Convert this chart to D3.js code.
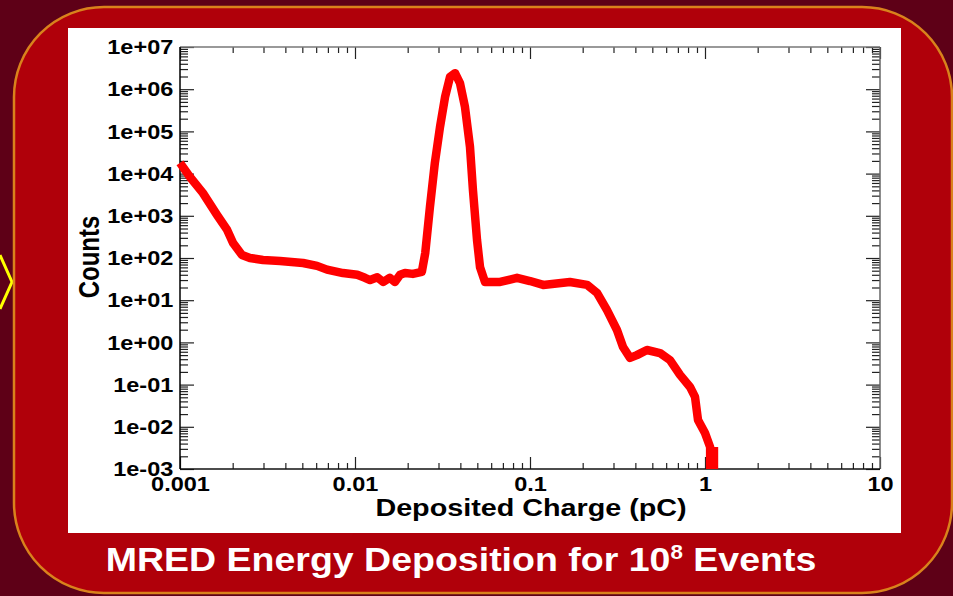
<!DOCTYPE html>
<html>
<head>
<meta charset="utf-8">
<script src="https://cdn.jsdelivr.net/npm/d3@7"></script>
<style>
  html, body { margin: 0; padding: 0; background: #5e0017; }
  svg { display: block; }
  text { font-family: "Liberation Sans", Arial, Helvetica, sans-serif; font-weight: bold; }
</style>
</head>
<body>
<svg id="chart" width="953" height="596"></svg>
<script>
// ---------------- data ----------------
const chargePC = [
  0.00100, 0.00114, 0.00135, 0.00163, 0.00186, 0.00201, 0.00226, 0.00251, 0.00298, 0.00373,
  0.00505, 0.00607, 0.00692, 0.00854, 0.0103, 0.0114, 0.0122, 0.0134, 0.0145, 0.0158,
  0.0169, 0.0181, 0.0193, 0.0214, 0.0241, 0.0252, 0.0268, 0.0286, 0.0306, 0.0327,
  0.0349, 0.0373, 0.0398, 0.0425, 0.0454, 0.0472, 0.0498, 0.0518, 0.0553, 0.0675,
  0.0843, 0.100, 0.119, 0.169, 0.212, 0.242, 0.275, 0.314, 0.340, 0.373,
  0.408, 0.466, 0.553, 0.631, 0.720, 0.821, 0.877, 0.912, 1.00, 1.07,
  1.07, 1.125, 1.125
];
const counts = [
  1.8e4, 8.3e3, 3.5e3, 1.04e3, 461, 227, 118, 100, 90, 85,
  76, 65, 53, 44, 40, 34, 30, 35, 27, 34,
  27, 40, 44, 42, 47, 131, 1.6e3, 1.8e4, 1.27e5, 6.5e5,
  1.95e6, 2.4e6, 1.4e6, 3.8e5, 4.3e4, 4.1e3, 267, 61, 27, 27,
  34, 28.5, 23, 27, 23, 14.8, 5.9, 1.97, 0.78, 0.43,
  0.50, 0.66, 0.56, 0.38, 0.17, 0.088, 0.051, 0.0145, 0.0071, 0.0033,
  0.001, 0.001, 0.0033
];
const xTickValues = [0.001, 0.01, 0.1, 1, 10];
const xTickLabels = ["0.001", "0.01", "0.1", "1", "10"];
const yTickValues = [1e-3, 1e-2, 1e-1, 1e0, 1e1, 1e2, 1e3, 1e4, 1e5, 1e6, 1e7];
const yTickLabels = ["1e-03", "1e-02", "1e-01", "1e+00", "1e+01", "1e+02", "1e+03", "1e+04", "1e+05", "1e+06", "1e+07"];
const xAxisTitle = "Deposited Charge (pC)";
const yAxisTitle = "Counts";
const slideTitleMain = "MRED Energy Deposition for 10";
const slideTitleSup = "8";
const slideTitleEnd = " Events";

// ---------------- layout ----------------
const svg = d3.select("#chart");
const plot = { left: 180, right: 880, top: 47, bottom: 469 };

// background frame
svg.append("rect").attr("x", 0).attr("y", 0).attr("width", 953).attr("height", 596).attr("fill", "#5e0017");
svg.append("polyline")
  .attr("points", "0,255 12,282 0,309")
  .attr("fill", "none").attr("stroke", "#ffff00").attr("stroke-width", 3);
svg.append("rect")
  .attr("x", 14).attr("y", 7).attr("width", 938).attr("height", 586)
  .attr("rx", 90).attr("ry", 90)
  .attr("fill", "#b0000a").attr("stroke", "#d9821c").attr("stroke-width", 2.5);
svg.append("rect")
  .attr("x", 68).attr("y", 28).attr("width", 833).attr("height", 505)
  .attr("fill", "#ffffff");

// scales
const x = d3.scaleLog().domain([0.001, 10]).range([plot.left, plot.right]);
const y = d3.scaleLog().domain([1e-3, 1e7]).range([plot.bottom, plot.top]);

function minorTicks(scale) {
  const [a, b] = scale.domain();
  const out = [];
  for (let e = Math.round(Math.log10(a)); e < Math.round(Math.log10(b)); e++) {
    for (let m = 2; m <= 9; m++) out.push(m * Math.pow(10, e));
  }
  return out;
}
const xMinor = minorTicks(x);
const yMinor = minorTicks(y);

const tickColor = "#222";
function styleAxis(g) {
  g.select(".domain").remove();
  g.selectAll(".tick line").attr("stroke", tickColor).attr("stroke-width", 1.2);
}

// minor ticks
svg.append("g").attr("transform", `translate(0,${plot.bottom})`)
  .call(d3.axisBottom(x).tickValues(xMinor).tickSize(-6).tickFormat(""))
  .call(styleAxis);
svg.append("g").attr("transform", `translate(0,${plot.top})`)
  .call(d3.axisTop(x).tickValues(xMinor).tickSize(-6).tickFormat(""))
  .call(styleAxis);
svg.append("g").attr("transform", `translate(${plot.left},0)`)
  .call(d3.axisLeft(y).tickValues(yMinor).tickSize(-8).tickFormat(""))
  .call(styleAxis);
svg.append("g").attr("transform", `translate(${plot.right},0)`)
  .call(d3.axisRight(y).tickValues(yMinor).tickSize(-8).tickFormat(""))
  .call(styleAxis);

// major ticks with labels
const xAx = svg.append("g").attr("transform", `translate(0,${plot.bottom})`)
  .call(d3.axisBottom(x).tickValues(xTickValues).tickSize(-12).tickPadding(7)
    .tickFormat((d, i) => xTickLabels[i]))
  .call(styleAxis);
xAx.selectAll("text")
  .attr("fill", "#000").style("font-size", "21px")
  .attr("transform", "scale(1.12,1)");
svg.append("g").attr("transform", `translate(0,${plot.top})`)
  .call(d3.axisTop(x).tickValues(xTickValues).tickSize(-12).tickFormat(""))
  .call(styleAxis);

const yAx = svg.append("g").attr("transform", `translate(${plot.left},0)`)
  .call(d3.axisLeft(y).tickValues(yTickValues).tickSize(-14).tickPadding(6)
    .tickFormat((d, i) => yTickLabels[i]))
  .call(styleAxis);
yAx.selectAll("text")
  .attr("fill", "#000").style("font-size", "21px")
  .attr("transform", "scale(1.12,1)");
svg.append("g").attr("transform", `translate(${plot.right},0)`)
  .call(d3.axisRight(y).tickValues(yTickValues).tickSize(-14).tickFormat(""))
  .call(styleAxis);

// frame lines
svg.append("line").attr("x1", plot.left).attr("x2", plot.right).attr("y1", plot.top).attr("y2", plot.top)
  .attr("stroke", "#777").attr("stroke-width", 1.5);
svg.append("line").attr("x1", plot.right).attr("x2", plot.right).attr("y1", plot.top).attr("y2", plot.bottom)
  .attr("stroke", "#666").attr("stroke-width", 1.5);
svg.append("line").attr("x1", plot.left).attr("x2", plot.right).attr("y1", plot.bottom).attr("y2", plot.bottom)
  .attr("stroke", "#111").attr("stroke-width", 1.5);
svg.append("line").attr("x1", plot.left).attr("x2", plot.left).attr("y1", plot.top).attr("y2", plot.bottom)
  .attr("stroke", "#000").attr("stroke-width", 1.5);

// data curve
svg.append("clipPath").attr("id", "plotClip")
  .append("rect").attr("x", 170).attr("y", 30).attr("width", 720).attr("height", plot.bottom - 30);
const pts = chargePC.map((c, i) => [c, counts[i]]);
const line = d3.line().x(d => x(d[0])).y(d => y(d[1])).curve(d3.curveLinear);
svg.append("path")
  .datum(pts)
  .attr("clip-path", "url(#plotClip)")
  .attr("d", line)
  .attr("fill", "none")
  .attr("stroke", "#ff0000")
  .attr("stroke-width", 8.5)
  .attr("stroke-linejoin", "round");

// axis titles
svg.append("text")
  .attr("transform", "translate(531,516) scale(1.25,1)")
  .attr("text-anchor", "middle")
  .attr("fill", "#000")
  .style("font-size", "23px")
  .text(xAxisTitle);
svg.append("text")
  .attr("transform", "translate(99,257) rotate(-90) scale(1,1.25)")
  .attr("text-anchor", "middle")
  .attr("fill", "#000")
  .style("font-size", "24px")
  .text(yAxisTitle);

// slide caption
const cap = svg.append("text")
  .attr("transform", "translate(461,571) scale(1.12,1)")
  .attr("text-anchor", "middle")
  .attr("fill", "#ffffff")
  .style("font-size", "33.5px");
cap.append("tspan").text(slideTitleMain);
cap.append("tspan").attr("dy", -12).style("font-size", "20px").text(slideTitleSup);
cap.append("tspan").attr("dy", 12).text(slideTitleEnd);
</script>
</body>
</html>
